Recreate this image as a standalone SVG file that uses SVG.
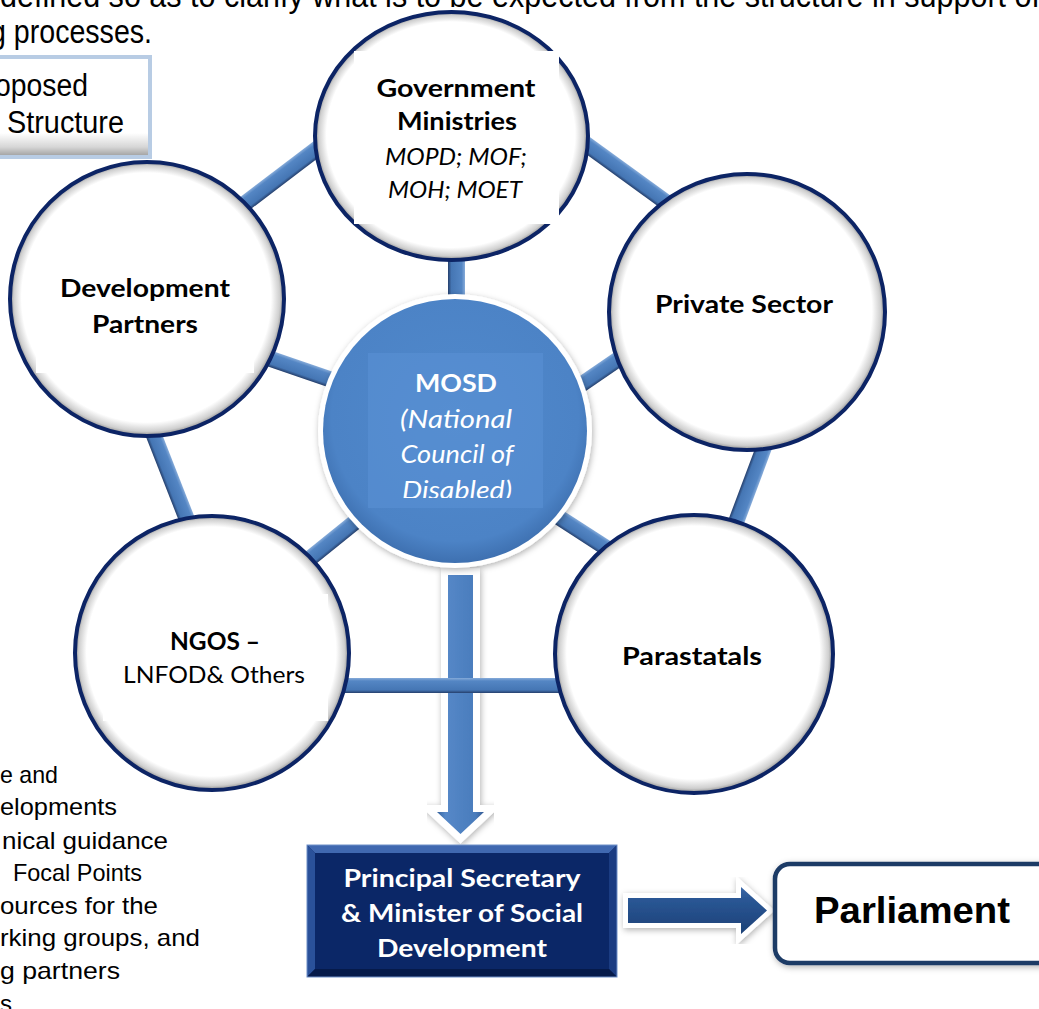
<svg xmlns="http://www.w3.org/2000/svg" width="1039" height="1009" viewBox="0 0 1039 1009">
  <style>
    .body { font-family: "Liberation Sans", Arial, sans-serif; fill: #000; }
    .lbl { font-family: Lato, "Open Sans", sans-serif; fill: #000; text-anchor: middle; }
    .b { font-weight: 700; }
    .i { font-style: italic; }
    .w { fill: #fff; }
    .ring { stroke: #0c2465; stroke-width: 4; fill: url(#ringShade); }
    .bar { fill: url(#barGrad); }
  </style>
  <defs>
    <radialGradient id="ringShade" cx="0.5" cy="0.5" r="0.5" fx="0.47" fy="0.44">
      <stop offset="0" stop-color="#fff"/>
      <stop offset="0.91" stop-color="#fff"/>
      <stop offset="0.97" stop-color="#cfcfcf"/>
      <stop offset="1" stop-color="#8a8a8a"/>
    </radialGradient>
    <radialGradient id="hubFill" cx="0.5" cy="0.45" r="0.55">
      <stop offset="0" stop-color="#5089cc"/>
      <stop offset="0.85" stop-color="#4c83c6"/>
      <stop offset="1" stop-color="#3e70b0"/>
    </radialGradient>
    <linearGradient id="barGrad" x1="0" y1="0" x2="0" y2="1">
      <stop offset="0" stop-color="#86abd9"/>
      <stop offset="0.2" stop-color="#5486c4"/>
      <stop offset="0.8" stop-color="#4576b4"/>
      <stop offset="1" stop-color="#253f6c"/>
    </linearGradient>
    <linearGradient id="downGrad" x1="0" y1="0" x2="1" y2="0">
      <stop offset="0" stop-color="#34619c"/>
      <stop offset="0.18" stop-color="#5588c8"/>
      <stop offset="0.82" stop-color="#4a7cbc"/>
      <stop offset="1" stop-color="#335b94"/>
    </linearGradient>
    <linearGradient id="rightGrad" x1="0" y1="0" x2="0" y2="1">
      <stop offset="0" stop-color="#3a68a8"/>
      <stop offset="0.25" stop-color="#2a5795"/>
      <stop offset="1" stop-color="#1c4177"/>
    </linearGradient>
    <linearGradient id="tabGrad" x1="0" y1="0" x2="0" y2="1">
      <stop offset="0" stop-color="#fff"/>
      <stop offset="0.76" stop-color="#fff"/>
      <stop offset="0.9" stop-color="#d6d6d6"/>
      <stop offset="1" stop-color="#9a9a9a"/>
    </linearGradient>
    <filter id="soft" x="-20%" y="-20%" width="140%" height="140%">
      <feDropShadow dx="1" dy="2" stdDeviation="3" flood-color="#000" flood-opacity="0.3"/>
    </filter>
    <clipPath id="hubClip">
      <rect x="368" y="353" width="175" height="145"/>
    </clipPath>
  </defs>

  <rect width="1039" height="1009" fill="#fff"/>

  <!-- surrounding document text -->
  <g id="page-text">
    <text class="body" x="0" y="7" font-size="33" textLength="1040" lengthAdjust="spacingAndGlyphs">defined so as to clarify what is to be expected from the structure in support of</text>
    <text class="body" x="-10" y="43" font-size="33" textLength="162" lengthAdjust="spacingAndGlyphs">g processes.</text>
    <g id="caption-box">
      <rect x="-10" y="57" width="160" height="100" fill="url(#tabGrad)" stroke="#b8cce4" stroke-width="4"/>
      <text class="body" x="-5" y="96" font-size="31" textLength="93" lengthAdjust="spacingAndGlyphs">oposed</text>
      <text class="body" x="7" y="133" font-size="31" textLength="117" lengthAdjust="spacingAndGlyphs">Structure</text>
    </g>
    <g font-size="24">
      <text class="body" x="0" y="783" textLength="58" lengthAdjust="spacingAndGlyphs">e and</text>
      <text class="body" x="0" y="815" textLength="117" lengthAdjust="spacingAndGlyphs">elopments</text>
      <text class="body" x="2" y="849" textLength="166" lengthAdjust="spacingAndGlyphs">nical guidance</text>
      <text class="body" x="13" y="881" textLength="129" lengthAdjust="spacingAndGlyphs">Focal Points</text>
      <text class="body" x="0" y="914" textLength="158" lengthAdjust="spacingAndGlyphs">ources for the</text>
      <text class="body" x="0" y="946" textLength="200" lengthAdjust="spacingAndGlyphs">rking groups, and</text>
      <text class="body" x="0" y="979" textLength="120" lengthAdjust="spacingAndGlyphs">g partners</text>
      <text class="body" x="0" y="1012">s</text>
    </g>
  </g>

  <!-- connectors: bevelled bars between circles, and the flow arrows -->
  <g id="connectors">
    <polygon points="448,575 473,575 473,812 484,812 460.5,834 437,812 448,812" fill="url(#downGrad)" stroke="#fff" stroke-width="14" stroke-linejoin="miter" paint-order="stroke" filter="url(#soft)"/>
    <g transform="translate(236.6 209.8) rotate(-37.2)"><rect class="bar" x="0" y="-8" width="110.2" height="16"/></g>
    <g transform="translate(576.5 137.3) rotate(35.9)"><rect class="bar" x="0" y="-8" width="123.4" height="16"/></g>
    <g transform="translate(456.5 252) rotate(90)"><rect class="bar" x="0" y="-8.5" width="50" height="17"/></g>
    <g transform="translate(257.4 354.4) rotate(18.9)"><rect class="bar" x="0" y="-8" width="93.2" height="16"/></g>
    <g transform="translate(578.4 386.5) rotate(-34.4)"><rect class="bar" x="0" y="-8" width="58.4" height="16"/></g>
    <g transform="translate(765.8 442.5) rotate(110.5)"><rect class="bar" x="0" y="-8" width="96.1" height="16"/></g>
    <g transform="translate(152.1 430.6) rotate(68.6)"><rect class="bar" x="0" y="-8" width="106.2" height="16"/></g>
    <g transform="translate(301.8 565) rotate(-38.9)"><rect class="bar" x="0" y="-8" width="76.4" height="16"/></g>
    <g transform="translate(556.3 515.6) rotate(32.9)"><rect class="bar" x="0" y="-8" width="76.7" height="16"/></g>
    <g transform="translate(340 685.5)"><rect class="bar" x="0" y="-7.5" width="225" height="15"/></g>
    <polygon points="628,898 741,898 741,887 767,910.5 741,934 741,923 628,923" fill="url(#rightGrad)" stroke="#fff" stroke-width="10" stroke-linejoin="miter" paint-order="stroke" filter="url(#soft)"/>
  </g>

  <!-- outer circles -->
  <g id="node-government">
    <ellipse class="ring" cx="451.5" cy="136" rx="136.5" ry="124"/>
    <rect x="354" y="51" width="205" height="173" fill="#fff"/>
    <text class="lbl b" x="456" y="97" font-size="25" textLength="159" lengthAdjust="spacingAndGlyphs">Government</text>
    <text class="lbl b" x="457" y="130" font-size="25" textLength="120" lengthAdjust="spacingAndGlyphs">Ministries</text>
    <text class="lbl i" x="456" y="165" font-size="24" textLength="142" lengthAdjust="spacingAndGlyphs">MOPD; MOF;</text>
    <text class="lbl i" x="455" y="198" font-size="24" textLength="134" lengthAdjust="spacingAndGlyphs">MOH; MOET</text>
  </g>

  <g id="node-development-partners">
    <circle class="ring" cx="147" cy="299" r="137"/>
    <rect x="36" y="250" width="218" height="123" fill="#fff"/>
    <text class="lbl b" x="145" y="297" font-size="25" textLength="170" lengthAdjust="spacingAndGlyphs">Development</text>
    <text class="lbl b" x="145" y="333" font-size="25" textLength="106" lengthAdjust="spacingAndGlyphs">Partners</text>
  </g>

  <g id="node-private-sector">
    <circle class="ring" cx="747" cy="312" r="138"/>
    <text class="lbl b" x="744" y="313" font-size="25" textLength="178" lengthAdjust="spacingAndGlyphs">Private Sector</text>
  </g>

  <g id="node-ngos">
    <circle class="ring" cx="212" cy="653" r="137"/>
    <rect x="103" y="594" width="225" height="127" fill="#fff"/>
    <text class="lbl b" x="215" y="650" font-size="25" textLength="90" lengthAdjust="spacingAndGlyphs">NGOS –</text>
    <text class="lbl" x="214" y="683" font-size="24" textLength="182" lengthAdjust="spacingAndGlyphs">LNFOD&amp; Others</text>
  </g>

  <g id="node-parastatals">
    <circle class="ring" cx="694" cy="654" r="139"/>
    <text class="lbl b" x="692" y="665" font-size="25" textLength="140" lengthAdjust="spacingAndGlyphs">Parastatals</text>
  </g>

  <!-- central hub -->
  <g id="node-mosd">
    <circle cx="455" cy="431" r="137" fill="#fff" filter="url(#soft)"/>
    <circle cx="455" cy="431" r="132" fill="url(#hubFill)"/>
    <rect x="368" y="353" width="175" height="155" fill="#5b92d6" opacity="0.55"/>
    <g clip-path="url(#hubClip)">
      <text class="lbl b w" x="456" y="392" font-size="25" textLength="82" lengthAdjust="spacingAndGlyphs">MOSD</text>
      <text class="lbl i w" x="456" y="428" font-size="25" textLength="112" lengthAdjust="spacingAndGlyphs">(National</text>
      <text class="lbl i w" x="457" y="463" font-size="25" textLength="113" lengthAdjust="spacingAndGlyphs">Council of</text>
      <text class="lbl i w" x="457" y="499" font-size="25" textLength="110" lengthAdjust="spacingAndGlyphs">Disabled)</text>
    </g>
  </g>

  <!-- reporting line -->
  <g id="node-principal-secretary">
    <rect x="307" y="845" width="310" height="132" fill="#0b2767"/>
    <polygon points="307,845 617,845 609,853 315,853" fill="#4068b0"/>
    <polygon points="307,845 315,853 315,969 307,977" fill="#2a519a"/>
    <polygon points="617,845 617,977 609,969 609,853" fill="#1b3c82"/>
    <polygon points="307,977 315,969 609,969 617,977" fill="#061a4a"/>
    <rect x="307" y="845" width="310" height="132" fill="none" stroke="#6f8fc8" stroke-width="1"/>
    <text class="lbl b w" x="462" y="887" font-size="25" textLength="237" lengthAdjust="spacingAndGlyphs">Principal Secretary</text>
    <text class="lbl b w" x="462" y="922" font-size="25" textLength="242" lengthAdjust="spacingAndGlyphs">&amp; Minister of Social</text>
    <text class="lbl b w" x="462" y="957" font-size="25" textLength="170" lengthAdjust="spacingAndGlyphs">Development</text>
  </g>

  <g id="node-parliament">
    <rect x="775" y="864" width="290" height="99" rx="15" fill="#fff" stroke="#1f3a66" stroke-width="4.5" filter="url(#soft)"/>
    <text class="body b" x="814" y="923" font-size="37" textLength="196" lengthAdjust="spacingAndGlyphs">Parliament</text>
  </g>
</svg>
